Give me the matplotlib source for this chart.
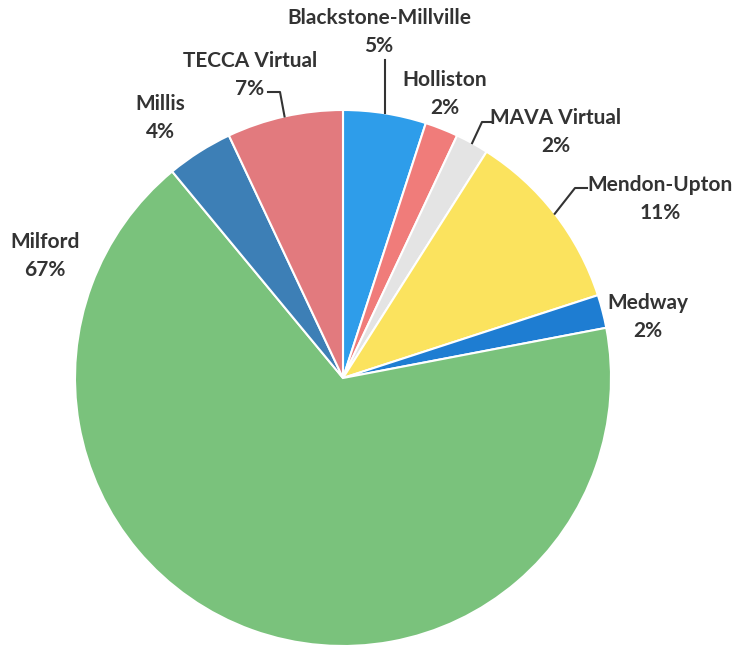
import matplotlib
matplotlib.use("Agg")
import matplotlib.pyplot as plt
import numpy as np

names = ["Blackstone-Millville", "Holliston", "MAVA Virtual", "Mendon-Upton",
         "Medway", "Milford", "Millis", "TECCA Virtual"]
shares = [5, 2, 2, 11, 2, 67, 4, 7]
colors = ["#2E9DEA", "#F07C7A", "#E4E4E4", "#FBE35E",
          "#1E7DD2", "#7AC27C", "#3D7FB6", "#E27A7E"]

W, H = 735, 649
cx, cy, R = 343, 378, 268

fig = plt.figure(figsize=(W / 100, H / 100), dpi=100)
ax = fig.add_axes([(cx - R) / W, (H - cy - R) / H, 2 * R / W, 2 * R / H])
wedges, _ = ax.pie(shares, colors=colors, startangle=90, counterclock=False,
                   radius=1, wedgeprops=dict(edgecolor="white", linewidth=1.5))
ax.set_xlim(-1, 1)
ax.set_ylim(-1, 1)
ax.axis("off")


def d(x, y):
    return ((x - cx) / R, (cy - y) / R)


# label layout (pixel position of name line centre)
label_pos = {
    "Blackstone-Millville": (379, 18),
    "Holliston": (445, 80),
    "MAVA Virtual": (556, 118),
    "Mendon-Upton": (660, 185),
    "Medway": (648, 303),
    "Milford": (45, 242),
    "Millis": (160, 104),
    "TECCA Virtual": (250, 61),
}
tc = "#333333"
for name, share in zip(names, shares):
    x, y = label_pos[name]
    ax.text(*d(x, y), name, ha="center", va="center", fontsize=15,
            fontfamily="Lato", fontweight="bold", color=tc, clip_on=False)
    ax.text(*d(x, y + 28), f"{share}%", ha="center", va="center", fontsize=15,
            fontfamily="Lato", fontweight="bold", color=tc, clip_on=False)

# leader lines: from label elbow to wedge edge midpoint
leaders = {
    "Blackstone-Millville": [(380, 60)],
    "TECCA Virtual": [(268, 92), (280, 92)],
    "MAVA Virtual": [(492, 122), (482, 122)],
    "Mendon-Upton": [(587, 188), (575, 188)],
}
for w, name in zip(wedges, names):
    if name not in leaders:
        continue
    mid = np.deg2rad((w.theta1 + w.theta2) / 2)
    end = (np.cos(mid), np.sin(mid))
    pts = [d(*p) for p in leaders[name]]
    if name == "Blackstone-Millville":
        pts = [(end[0], pts[0][1])]
    pts.append(end)
    xs, ys = zip(*pts)
    ax.plot(xs, ys, color="#333333", lw=1.5, clip_on=False)

fig.savefig("out.png", dpi=100, facecolor="white")
